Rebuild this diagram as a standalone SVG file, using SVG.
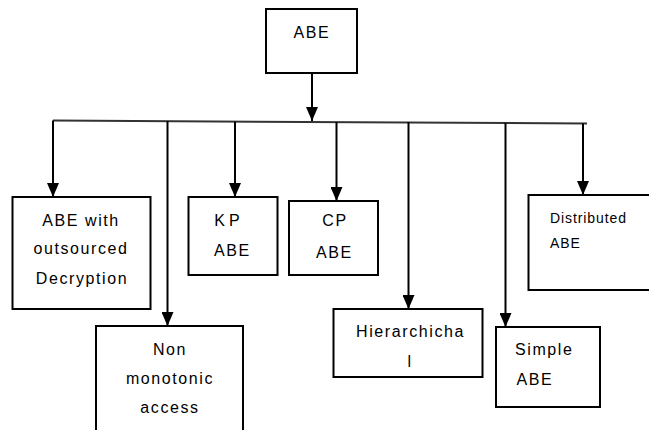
<svg xmlns="http://www.w3.org/2000/svg" width="649" height="430" viewBox="0 0 649 430">
<style>
  .box { fill: #fff; stroke: #000; stroke-width: 2; }
  .t { font-family: "Liberation Sans", Arial, sans-serif; font-size: 16px; letter-spacing: 1.6px; fill: #000; text-anchor: middle; }
  .ts { text-anchor: start; }
  .small { font-size: 14px; letter-spacing: 0.9px; text-anchor: start; }
  .conn { stroke: #000; stroke-width: 2; fill: none; }
  .bus { stroke: #333; stroke-width: 2; fill: none; }
</style>
<defs>
  <marker id="arr" markerUnits="userSpaceOnUse" markerWidth="14" markerHeight="12" viewBox="0 0 14 12" refX="14" refY="6" orient="auto">
    <path d="M0,0 L14,6 L0,12 Z" fill="#000"/>
  </marker>
</defs>
<rect width="649" height="430" fill="#fff"/>

<g id="connectors">
  <line class="conn" x1="312" y1="73" x2="312" y2="121" marker-end="url(#arr)"/>
  <line class="bus" x1="53" y1="120.5" x2="587" y2="123.5"/>
  <line class="conn" x1="53" y1="120.5" x2="53" y2="197" marker-end="url(#arr)"/>
  <line class="conn" x1="167.5" y1="121" x2="167.5" y2="326" marker-end="url(#arr)"/>
  <line class="conn" x1="235" y1="121.5" x2="235" y2="197" marker-end="url(#arr)"/>
  <line class="conn" x1="336.5" y1="122" x2="336.5" y2="201" marker-end="url(#arr)"/>
  <line class="conn" x1="408.5" y1="122" x2="408.5" y2="309" marker-end="url(#arr)"/>
  <line class="conn" x1="505.5" y1="123" x2="505.5" y2="327" marker-end="url(#arr)"/>
  <line class="conn" x1="583" y1="123.5" x2="583" y2="195" marker-end="url(#arr)"/>
</g>

<g id="root">
  <rect class="box" x="266" y="9" width="91" height="64"/>
  <text class="t" x="312" y="38">ABE</text>
</g>

<g id="outsourced">
  <rect class="box" x="12.5" y="197" width="138" height="112"/>
  <text class="t" x="81" y="225.5">ABE with</text>
  <text class="t" x="81" y="254">outsourced</text>
  <text class="t" x="82" y="284">Decryption</text>
</g>

<g id="nonmonotonic">
  <rect class="box" x="96" y="326" width="147" height="120"/>
  <text class="t" x="170" y="355">Non</text>
  <text class="t" x="170" y="384">monotonic</text>
  <text class="t" x="170" y="413">access</text>
</g>

<g id="kp">
  <rect class="box" x="188.5" y="197" width="89" height="78"/>
  <text class="t" x="229" y="226" style="letter-spacing:4px">KP</text>
  <text class="t" x="232.5" y="256">ABE</text>
</g>

<g id="cp">
  <rect class="box" x="289" y="201" width="89" height="74"/>
  <text class="t" x="335" y="226">CP</text>
  <text class="t" x="334.5" y="258">ABE</text>
</g>

<g id="hierarchical">
  <rect class="box" x="333.5" y="309" width="149" height="68"/>
  <text class="t" x="410.5" y="337">Hierarchicha</text>
  <text class="t" x="410" y="367">l</text>
</g>

<g id="simple">
  <rect class="box" x="496" y="327" width="104" height="80"/>
  <text class="t ts" x="515" y="355">Simple</text>
  <text class="t ts" x="516.5" y="385">ABE</text>
</g>

<g id="distributed">
  <rect class="box" x="528.5" y="195" width="130" height="95"/>
  <text class="t small" x="550" y="223">Distributed</text>
  <text class="t small" x="550" y="248">ABE</text>
</g>
</svg>
